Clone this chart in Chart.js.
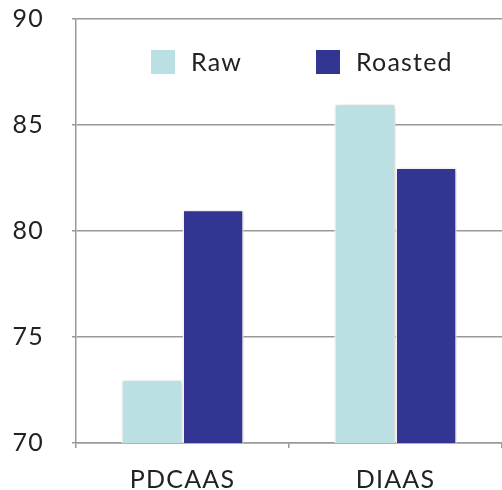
<!DOCTYPE html>
<html>
<head>
<meta charset="utf-8">
<script src="https://cdn.jsdelivr.net/npm/chart.js@4"></script>
<style>
  html, body { margin: 0; padding: 0; background: #fff; }
  #wrap { width: 502px; height: 490px; position: relative; }
</style>
</head>
<body>
<div id="wrap"><canvas id="c" width="502" height="490"></canvas></div>
<script>
const categories = ['PDCAAS', 'DIAAS'];
const rawValues = [73, 86];
const roastedValues = [81, 83];
const seriesNames = ['Raw', 'Roasted'];
const yTicks = [70, 75, 80, 85, 90];

const FONT = 'Lato, "Open Sans", sans-serif';
const FONT_SIZE = 25;
const LETTER_SPACING = '1.2px';

const spacingPlugin = {
  id: 'letterSpacing',
  beforeInit(chart) { chart.ctx.letterSpacing = LETTER_SPACING; },
  beforeUpdate(chart) { chart.ctx.letterSpacing = LETTER_SPACING; },
  beforeDraw(chart) { chart.ctx.letterSpacing = LETTER_SPACING; }
};

const shadowPlugin = {
  id: 'barShadow',
  beforeDatasetsDraw(chart) {
    const ctx = chart.ctx;
    ctx.save();
    ctx.shadowColor = 'rgba(0,0,0,0.22)';
    ctx.shadowBlur = 4;
    ctx.shadowOffsetX = 1;
    ctx.shadowOffsetY = 1;
  },
  afterDatasetsDraw(chart) {
    chart.ctx.restore();
  }
};

// Legend drawn inside the plot area, in a row
const innerLegend = {
  id: 'innerLegend',
  afterDraw(chart) {
    const ctx = chart.ctx;
    const area = chart.chartArea;
    const startX = area.left + 75;
    const step = 165;
    const cy = area.top + 43;
    const box = 24;
    ctx.save();
    ctx.letterSpacing = LETTER_SPACING;
    ctx.font = FONT_SIZE + 'px ' + FONT;
    ctx.textBaseline = 'middle';
    ctx.textAlign = 'left';
    chart.data.datasets.forEach((ds, i) => {
      const x = startX + i * step;
      ctx.fillStyle = ds.backgroundColor;
      ctx.fillRect(x, cy - box / 2, box, box);
      ctx.fillStyle = '#222';
      ctx.fillText(ds.label, x + box + 16, cy + 1);
    });
    ctx.restore();
  }
};

new Chart(document.getElementById('c'), {
  type: 'bar',
  data: {
    labels: categories,
    datasets: [
      { label: seriesNames[0], data: rawValues, backgroundColor: '#bbe0e3', borderColor: '#ffffff', borderWidth: 1.5 },
      { label: seriesNames[1], data: roastedValues, backgroundColor: '#333592', borderColor: '#ffffff', borderWidth: 1.5 }
    ]
  },
  options: {
    responsive: false,
    animation: false,
    devicePixelRatio: 1,
    layout: { padding: { top: 19, right: 0, bottom: 0, left: 0 } },
    datasets: { bar: { categoryPercentage: 0.575, barPercentage: 1.0 } },
    plugins: {
      tooltip: { enabled: false },
      legend: { display: false }
    },
    scales: {
      x: {
        afterFit(scale) { scale.height = 47; },
        grid: { display: true, drawOnChartArea: false, offset: true, color: '#999', tickLength: 5, lineWidth: 1.5 },
        border: { display: true, color: '#999', width: 1.5 },
        ticks: { font: { family: FONT, size: FONT_SIZE }, color: '#222', padding: 17 }
      },
      y: {
        min: 70,
        max: 90,
        afterBuildTicks(scale) { scale.ticks = yTicks.map(v => ({ value: v })); },
        afterFit(scale) { scale.width = 76; scale.paddingTop = 0; scale.paddingBottom = 0; },
        grid: { color: '#999', lineWidth: 1.5, tickLength: 4 },
        border: { display: true, color: '#999', width: 1.5 },
        ticks: { font: { family: FONT, size: FONT_SIZE }, color: '#222', padding: 28 }
      }
    }
  },
  plugins: [spacingPlugin, shadowPlugin, innerLegend]
});
</script>
</body>
</html>
